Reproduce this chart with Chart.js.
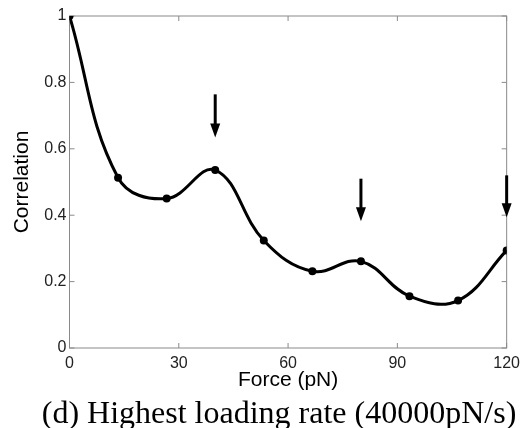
<!DOCTYPE html>
<html>
<head>
<meta charset="utf-8">
<script src="https://cdn.jsdelivr.net/npm/chart.js@4"></script>
<style>
  html, body { margin: 0; padding: 0; background: #fff; }
  #wrap { position: relative; width: 526px; height: 428px; }
  #caption {
    position: absolute; left: 3px; top: 396px; width: 552px;
    text-align: center; font: 32px "Liberation Serif", "Times New Roman", serif;
    line-height: 32px; color: #000; white-space: nowrap;
  }
</style>
</head>
<body>
<div id="wrap">
  <canvas id="corrChart" width="526" height="428"></canvas>
  <div id="caption">(d) Highest loading rate (40000pN/s)</div>
</div>
<script>
// values
const forces = [0, 13.33, 26.67, 40, 53.33, 66.67, 80, 93.33, 106.67, 120];
const correlation = [1.0, 0.513, 0.450, 0.536, 0.324, 0.231, 0.261, 0.156, 0.143, 0.294];
const xTicks = [0, 30, 60, 90, 120];
const yTicks = [0, 0.2, 0.4, 0.6, 0.8, 1];
// arrows pointing at the peaks
const arrowX = [40, 80, 120];
const arrowTop = [0.764, 0.51, 0.52];
const arrowTip = [0.634, 0.382, 0.394];

const frameColor = '#8a8a8a';

// box round the plot with inward ticks, like the original
const framePlugin = {
  id: 'frame',
  beforeDatasetsDraw(chart) {
    const { ctx, chartArea: a, scales } = chart;
    const tl = 5;
    ctx.save();
    ctx.strokeStyle = frameColor;
    ctx.lineWidth = 1;
    ctx.strokeRect(a.left, a.top, a.right - a.left, a.bottom - a.top);
    ctx.beginPath();
    xTicks.forEach(v => {
      const x = scales.x.getPixelForValue(v);
      ctx.moveTo(x, a.bottom); ctx.lineTo(x, a.bottom - tl);
      ctx.moveTo(x, a.top); ctx.lineTo(x, a.top + tl);
    });
    yTicks.forEach(v => {
      const y = scales.y.getPixelForValue(v);
      ctx.moveTo(a.left, y); ctx.lineTo(a.left + tl, y);
      ctx.moveTo(a.right, y); ctx.lineTo(a.right - tl, y);
    });
    ctx.stroke();
    ctx.restore();
  }
};

const arrowPlugin = {
  id: 'arrows',
  afterDatasetsDraw(chart) {
    const { ctx, scales } = chart;
    ctx.save();
    ctx.strokeStyle = '#000';
    ctx.fillStyle = '#000';
    ctx.lineWidth = 3;
    arrowX.forEach((xv, i) => {
      const x = scales.x.getPixelForValue(xv);
      const y0 = scales.y.getPixelForValue(arrowTop[i]);
      const y1 = scales.y.getPixelForValue(arrowTip[i]);
      const head = 14;
      ctx.beginPath();
      ctx.moveTo(x, y0);
      ctx.lineTo(x, y1 - head + 2);
      ctx.stroke();
      ctx.beginPath();
      ctx.moveTo(x - 5, y1 - head);
      ctx.lineTo(x + 5, y1 - head);
      ctx.lineTo(x, y1);
      ctx.closePath();
      ctx.fill();
    });
    ctx.restore();
  }
};

const data = {
  datasets: [{
    data: forces.map((f, i) => ({ x: f, y: correlation[i] })),
    borderColor: '#000',
    backgroundColor: '#000',
    borderWidth: 3,
    pointRadius: 4,
    pointBackgroundColor: '#000',
    pointBorderWidth: 0,
    tension: 0.4,
    fill: false
  }]
};

new Chart(document.getElementById('corrChart'), {
  type: 'line',
  data: data,
  options: {
    responsive: false,
    animation: false,
    layout: { padding: { left: 0, top: 16, right: 19, bottom: 35 } },
    plugins: { legend: { display: false }, tooltip: { enabled: false } },
    scales: {
      x: {
        type: 'linear',
        min: 0, max: 120,
        afterBuildTicks: s => { s.ticks = xTicks.map(v => ({ value: v })); },
        grid: { display: false, drawTicks: false },
        border: { display: false },
        ticks: {
          padding: 6,
          color: '#222',
          font: { family: 'Liberation Sans', size: 16 }
        },
        title: {
          display: true, text: 'Force (pN)', color: '#000',
          padding: 0,
          font: { family: 'Liberation Sans', size: 21 }
        },
        afterFit: s => { s.height = 45; }
      },
      y: {
        min: 0, max: 1,
        afterBuildTicks: s => { s.ticks = yTicks.map(v => ({ value: v })); },
        grid: { display: false, drawTicks: false },
        border: { display: false },
        ticks: {
          padding: 3,
          color: '#222',
          font: { family: 'Liberation Sans', size: 16 },
          callback: v => String(Math.round(v * 10) / 10)
        },
        title: {
          display: true, text: 'Correlation', color: '#000',
          padding: { top: 10, bottom: 0 },
          font: { family: 'Liberation Sans', size: 21 }
        },
        afterFit: s => { s.width = 69.5; }
      }
    }
  },
  plugins: [framePlugin, arrowPlugin]
});
</script>
</body>
</html>
